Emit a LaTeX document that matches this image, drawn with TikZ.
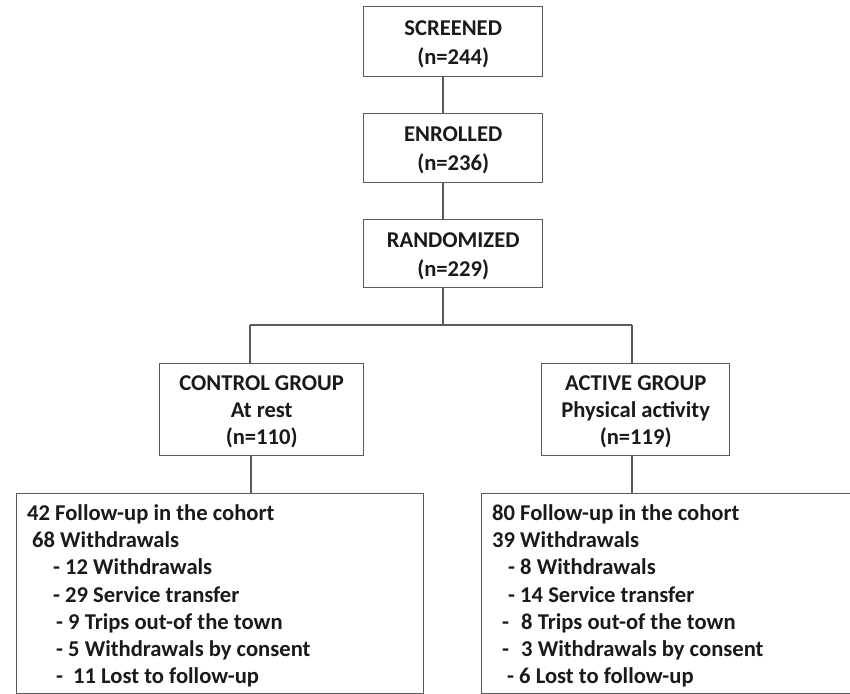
\documentclass[tikz,border=0pt]{standalone}
\usepackage{fontspec}
\setmainfont{Carlito}
\definecolor{txt}{HTML}{1A1A1A}
\definecolor{ln}{HTML}{5A5A5A}
\newcommand{\upfill}[1]{\rule{0pt}{#1}}
\begin{document}
\begin{tikzpicture}[x=1pt,y=-1pt,
  box/.style={draw=ln, line width=1.4pt, inner sep=0pt, anchor=north west,
    text=txt, align=center, font=\fontsize{22.6}{29}\selectfont\bfseries},
  row/.style={text=txt, font=\fontsize{22.6}{27}\selectfont\bfseries, anchor=base west, inner sep=0pt},
  conn/.style={draw=ln, line width=1.4pt}]
\useasboundingbox (0,0) rectangle (850,693);
\clip (0,0) rectangle (850,693);
% boxes
\node[box, minimum width=179pt, minimum height=70pt] (scr) at (363,6) {\upfill{20.5pt}SCREENED\\(n=244)};
\node[box, minimum width=179pt, minimum height=69pt] (enr) at (363,113) {\upfill{19.5pt}ENROLLED\\(n=236)};
\node[box, minimum width=179pt, minimum height=68pt] (rnd) at (363,219) {\upfill{20.5pt}RANDOMIZED\\(n=229)};
\node[box, minimum width=204pt, minimum height=92pt, font=\fontsize{22.6}{27}\selectfont\bfseries] (ctl) at (159,363) {\upfill{18.5pt}CONTROL GROUP\\At rest\\(n=110)};
\node[box, minimum width=188pt, minimum height=92pt, font=\fontsize{22.6}{27}\selectfont\bfseries] (act) at (541,363) {\upfill{18.5pt}ACTIVE GROUP\\Physical activity\\(n=119)};
\node[box, minimum width=407pt, minimum height=200pt] (lbx) at (16,493) {};
\node[box, minimum width=400pt, minimum height=200pt] (rbx) at (481,493) {};
% rows left
\node[row] (l1) at (27,520.5) {42 Follow-up in the cohort};
\node[row] (l2) at (32,547.7) {68 Withdrawals};
\node[row] (l3) at (53,574.9) {- 12 Withdrawals};
\node[row] (l4) at (53,602.1) {- 29 Service transfer};
\node[row] (l5) at (56,629.3) {- 9 Trips out-of the town};
\node[row] (l6) at (56,656.5) {- 5 Withdrawals by consent};
\node[row] (l7) at (56,683.7) {-\hspace{5pt} 11 Lost to follow-up};
% rows right
\node[row] (r1) at (492,520.5) {80 Follow-up in the cohort};
\node[row] (r2) at (492,547.7) {39 Withdrawals};
\node[row] (r3) at (508,574.9) {- 8 Withdrawals};
\node[row] (r4) at (508,602.1) {- 14 Service transfer};
\node[row] (r5) at (502,629.3) {-\hspace{7pt} 8 Trips out-of the town};
\node[row] (r6) at (502,656.5) {-\hspace{7pt} 3 Withdrawals by consent};
\node[row] (r7) at (507,683.7) {- 6 Lost to follow-up};
% connectors
\coordinate (v1) at (443,0);
\coordinate (bl) at (250,325);
\coordinate (bm) at (443,325);
\coordinate (br) at (632,325);
\coordinate (cv) at (251,0);
\coordinate (av) at (632,0);
\draw[conn] (scr.south -| v1) -- (enr.north -| v1);
\draw[conn] (enr.south -| v1) -- (rnd.north -| v1);
\draw[conn] (rnd.south -| v1) -- (bm);
\draw[conn] (bl) -- (br);
\draw[conn] (bl) -- (bl |- ctl.north);
\draw[conn] (br) -- (br |- act.north);
\draw[conn] (ctl.south -| cv) -- (lbx.north -| cv);
\draw[conn] (act.south -| av) -- (rbx.north -| av);
\end{tikzpicture}
\end{document}
